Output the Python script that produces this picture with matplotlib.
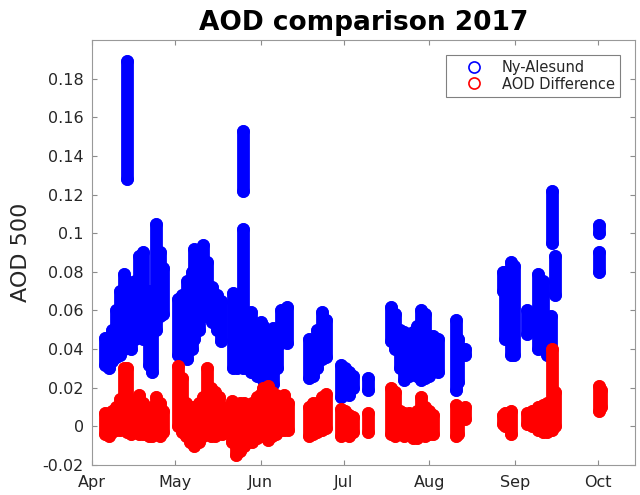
import numpy as np
import matplotlib
matplotlib.use("Agg")
import matplotlib.pyplot as plt

# observation day (day of year 2017) with the low / high AOD reading of that cluster
blue_day = [95.5, 97, 98, 99.5, 101, 102.5, 103.5, 103.5, 105, 106.5, 108, 109.5, 111.5, 112.5, 114, 115.5, 116.5,
            122, 123.5, 125.5, 127, 128, 129.5, 131, 132.5, 134.5, 136, 137.5,
            142, 143.5, 145.5, 145.5, 147, 148.5, 150.5, 152, 153, 154.5, 156.5, 158, 159.5, 161.5,
            169.5, 171, 172.5, 174, 175.5, 181, 182.5, 184, 185.5, 191,
            199, 200.5, 202.5, 204, 205.5, 207, 208.5, 210, 211.5, 213, 214.5, 216, 222.5, 223.5, 226,
            239.5, 240.5, 242.5, 243.5, 248.5, 250, 252.5, 254, 255.5, 257, 257.5, 258.5,
            274.5, 274.5]
blue_lo = [.032, .030, .034, .036, .037, .040, .128, .042, .040, .045, .048, .045, .032, .028, .050, .057, .058,
           .037, .036, .035, .040, .045, .050, .057, .057, .054, .050, .044,
           .030, .030, .030, .122, .030, .028, .026, .026, .024, .022, .022, .030, .043, .043,
           .025, .026, .030, .035, .036, .015, .018, .016, .020, .019,
           .044, .040, .030, .024, .026, .028, .026, .024, .025, .026, .030, .028, .019, .023, .037,
           .070, .045, .037, .037, .048, .050, .040, .040, .037, .040, .095, .068,
           .100, .080]
blue_hi = [.046, .044, .050, .060, .070, .079, .189, .075, .068, .075, .088, .090, .070, .060, .105, .090, .082,
           .066, .068, .075, .080, .092, .090, .094, .085, .072, .068, .065,
           .069, .068, .102, .153, .058, .059, .052, .054, .052, .050, .051, .048, .060, .062,
           .045, .042, .050, .059, .055, .032, .030, .028, .026, .025,
           .062, .058, .050, .049, .048, .049, .052, .060, .058, .047, .047, .045, .055, .045, .040,
           .080, .080, .085, .083, .060, .058, .079, .075, .055, .057, .122, .088,
           .104, .090]

red_day = [95.5, 97, 98, 99.5, 101, 102.5, 103.5, 105, 106.5, 108, 109.5, 111.5, 112.5, 114, 115.5, 116.5,
           122, 123.5, 125, 126.5, 128, 129.5, 131, 132.5, 134, 135.5, 137, 138,
           141.5, 143, 144.5, 146, 147.5, 149, 150.5, 152, 153, 154.5, 156, 157.5, 159, 160.5, 162,
           169.5, 171, 172.5, 174, 175.5, 181, 182.5, 184, 185.5, 191,
           199, 200.5, 202.5, 204, 205.5, 207, 208.5, 210, 211.5, 213, 214.5, 222.5, 223.5, 226,
           239.5, 240.5, 242.5, 248.5, 250, 252.5, 254, 255.5, 257.5, 258.5,
           274.5, 275]
red_lo = [-.004, -.005, -.003, -.002, -.002, .000, -.003, -.004, -.003, -.004, -.004, -.005, -.005, -.004, -.005, -.003,
          .000, -.003, -.005, -.008, -.010, -.008, -.005, -.004, -.005, -.005, -.003, -.004,
          -.008, -.015, -.013, -.010, -.008, -.008, -.006, -.005, -.004, -.007, -.005, -.004, -.002, -.002, -.002,
          -.005, -.004, -.003, -.002, -.001, -.005, -.004, -.005, -.003, -.003,
          -.004, -.005, -.004, -.005, -.004, -.006, -.006, -.004, -.005, -.004, -.004, -.005, -.004, .004,
          .001, .000, -.004, .001, .000, -.002, -.003, -.003, -.002, .000,
          .008, .010]
red_hi = [.007, .006, .008, .010, .014, .030, .030, .012, .006, .016, .012, .008, .010, .015, .012, .008,
          .031, .025, .012, .010, .010, .012, .015, .030, .020, .018, .015, .010,
          .013, .010, .012, .012, .010, .012, .015, .017, .020, .021, .018, .016, .015, .016, .012,
          .010, .012, .012, .015, .017, .009, .008, .006, .005, .007,
          .020, .018, .008, .007, .007, .006, .008, .015, .010, .008, .006, .011, .010, .010,
          .006, .007, .008, .007, .008, .010, .011, .012, .040, .018,
          .021, .019]

month_doy = [91, 121, 152, 182, 213, 244, 274]
month_names = ["Apr", "May", "Jun", "Jul", "Aug", "Sep", "Oct"]
y_ticks = [-0.02, 0, 0.02, 0.04, 0.06, 0.08, 0.1, 0.12, 0.14, 0.16, 0.18]

MS = 8.0
MEW = 1.2

fig = plt.figure(figsize=(6.4, 4.95), dpi=100)
ax = fig.add_axes([0.144, 0.0606, 0.848, 0.8586])

for day, lo, hi, col, name in [(blue_day, blue_lo, blue_hi, "#0000ff", "Ny-Alesund"),
                               (red_day, red_lo, red_hi, "#ff0000", "AOD Difference")]:
    day, lo, hi = np.array(day), np.array(lo), np.array(hi)
    # dense hourly circles merge into solid columns
    ax.vlines(day, lo, hi, colors=col, linewidth=MS + MEW, capstyle="round")
    ax.plot(np.r_[day, day], np.r_[lo, hi], "o", mfc="none", mec=col,
            ms=MS, mew=MEW, linestyle="none", label=name)

ax.set_xlim(91, 287.4)
ax.set_ylim(-0.02, 0.2)
ax.set_xticks(month_doy)
ax.set_xticklabels(month_names)
ax.set_yticks(y_ticks)
ax.set_yticklabels(["%g" % v for v in y_ticks])

ax.tick_params(direction="in", length=3.5, top=True, right=True, color="0.55",
               labelcolor="#262626", labelsize=11.5)
ax.tick_params(axis="x", pad=7)
ax.tick_params(axis="y", pad=6)
for s in ax.spines.values():
    s.set_color("0.6")

ax.set_ylabel("AOD 500", fontsize=16, color="#262626", labelpad=8)
ax.set_title("AOD comparison 2017", fontsize=19, fontweight="bold", pad=7)

leg = ax.legend(loc="upper right", bbox_to_anchor=(0.9724, 0.9647), borderaxespad=0,
                fontsize=10.5, fancybox=False, framealpha=1, edgecolor="0.5",
                handlelength=3.1, handletextpad=0.35, labelspacing=0.1, borderpad=0.35)
leg.get_frame().set_linewidth(0.8)
for t in leg.get_texts():
    t.set_color("#262626")

fig.savefig("out.png", dpi=100)
